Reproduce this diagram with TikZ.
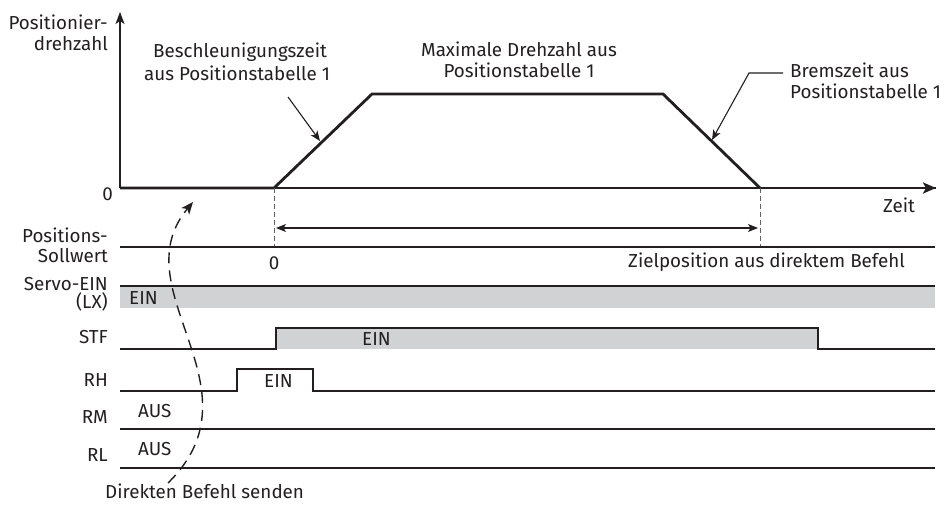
\documentclass[tikz,border=0pt]{standalone}
\usepackage{fontspec}
\setmainfont{Fira Sans}
\usetikzlibrary{arrows.meta}
\definecolor{ink}{RGB}{35,31,32}
\definecolor{fillg}{RGB}{209,210,212}
\definecolor{dashg}{RGB}{100,100,100}
\begin{document}
\begin{tikzpicture}[x=1pt,y=-1pt,
  lbl/.style={text=ink,inner sep=0pt,font=\fontsize{18.8}{22}\selectfont},
  sig/.style={draw=ink,line width=1.4pt},
  prof/.style={draw=ink,line width=2.8pt,line join=miter},
  ytip/.style={-{Stealth[length=12pt,width=9pt,inset=3pt]}},
  xtip/.style={-{Stealth[length=13pt,width=11pt,inset=3pt]}},
  smalltip/.style={-{Stealth[length=10pt,width=8pt,inset=2.5pt]}},
  guide/.style={draw=dashg,line width=1pt,dash pattern=on 5pt off 3pt},
  note/.style={draw=ink,line width=1.1pt},
  curvedash/.style={draw=ink,line width=1.4pt,dash pattern=on 11pt off 7pt}]
\useasboundingbox (0,0) rectangle (947,506);

% ---- axes and speed profile
\coordinate (O) at (120,188);
\coordinate (Ytop) at (120,12);
\coordinate (Xend) at (936,188);
\coordinate (P1) at (274,188);
\coordinate (P2) at (372,94);
\coordinate (P3) at (663,94);
\coordinate (P4) at (760,188);
\draw[sig,ytip] (O) -- (Ytop);
\draw[sig] (O) -- (Xend);
\draw[prof] (O) -- (P1) -- (P2) -- (P3) -- (P4);
\draw[prof,xtip] (P4) -- (Xend);

% ---- guides and target arrow
\coordinate (G1) at (274,247);
\coordinate (G2) at (760,247);
\draw[guide] (P1) -- (G1);
\draw[guide] (P4) -- (G2);
\coordinate (A1) at (276,228);
\coordinate (A2) at (758,228);
\draw[sig,line width=1.2pt,{Stealth[length=10pt,width=8pt,inset=2.5pt]}-{Stealth[length=10pt,width=8pt,inset=2.5pt]}] (A1) -- (A2);

% ---- signal rows
\draw[sig] (120,247) -- (935,247);
\fill[fillg] (120,286) rectangle (935,308);
\draw[sig] (120,286) -- (935,286);
\fill[fillg] (276,328) rectangle (818,349);
\draw[sig] (120,349) -- (276,349) -- (276,328) -- (818,328) -- (818,349) -- (935,349);
\draw[sig] (120,391) -- (237,391) -- (237,369) -- (313,369) -- (313,391) -- (935,391);
\draw[sig] (120,429) -- (935,429);
\draw[sig] (120,468) -- (935,468);

% ---- left labels
\node[lbl,anchor=base east] (l1) at (108,29) {Positionier-};
\node[lbl,anchor=base east] (l2) at (108,50) {drehzahl};
\node[lbl,anchor=base east] (l0) at (113,200) {0};
\node[lbl,anchor=base east] (l3) at (108,242) {Positions-};
\node[lbl,anchor=base east] (l4) at (108,262) {Sollwert};
\node[lbl,anchor=base east] (l5) at (108,290) {Servo-EIN};
\node[lbl,anchor=base east] (l6) at (108,308) {(LX)};
\node[lbl,anchor=base east] (l7) at (108,343) {STF};
\node[lbl,anchor=base east] (l8) at (108,386) {RH};
\node[lbl,anchor=base east] (l9) at (108,423) {RM};
\node[lbl,anchor=base east] (l10) at (108,461) {RL};

% ---- in-row labels
\node[lbl,anchor=base west] (e1) at (129,304) {EIN};
\node[lbl,anchor=base west] (e2) at (362,345) {EIN};
\node[lbl,anchor=base west] (e3) at (264,387) {EIN};
\node[lbl,anchor=base west] (a1) at (138,417) {AUS};
\node[lbl,anchor=base west] (a2) at (138,455) {AUS};
\node[lbl,anchor=base] (z0) at (274,269) {0};
\node[lbl,anchor=base east] (zp) at (905,267) {Zielposition aus direktem Befehl};
\node[lbl,anchor=base west] (zeit) at (883,212) {Zeit};

% ---- annotations
\node[lbl,anchor=base] (b1) at (240,57) {Beschleunigungszeit};
\node[lbl,anchor=base] (b2) at (237,80) {aus Positionstabelle 1};
\node[lbl,anchor=base] (m1) at (519,56) {Maximale Drehzahl aus};
\node[lbl,anchor=base] (m2) at (519,77) {Positionstabelle 1};
\node[lbl,anchor=base west] (r1) at (790,77) {Bremszeit aus};
\node[lbl,anchor=base west] (r2) at (790,98) {Positionstabelle 1};
\node[lbl,anchor=base west] (d1) at (105,498) {Direkten Befehl senden};

\coordinate (bs) at (288,97);
\coordinate (bt) at (320,141);
\draw[note,smalltip] (bs) -- (bt);
\coordinate (rs) at (783,73);
\coordinate (rk) at (749,73);
\coordinate (rt) at (712,140);
\draw[note,smalltip] (rs) -- (rk) -- (rt);

\coordinate (cs) at (168,483);
\coordinate (ct) at (193,202);
\draw[curvedash,-{Stealth[length=12pt,width=10pt,inset=3pt]}] (cs) .. controls (265,388) and (120,290) .. (ct);
\end{tikzpicture}
\end{document}
